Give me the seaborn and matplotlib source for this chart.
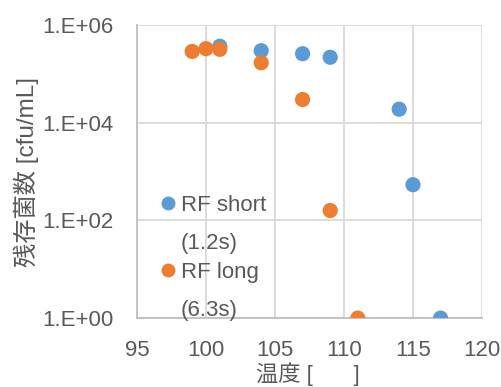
import matplotlib
matplotlib.use("Agg")
import matplotlib.pyplot as plt
import seaborn as sns
import pandas as pd
import numpy as np
from matplotlib.ticker import FixedLocator, FuncFormatter, NullLocator
from matplotlib.lines import Line2D
from matplotlib.legend import Legend

short_temp = [101, 104, 107, 109, 114, 115, 117]
short_count = [3.7e5, 3.0e5, 2.6e5, 2.2e5, 1.9e4, 540, 1.0]
long_temp = [99, 100, 101, 104, 107, 109, 111]
long_count = [2.9e5, 3.3e5, 3.2e5, 1.7e5, 3.0e4, 160, 1.0]
series_names = ["RF short", "RF long"]
series_notes = ["(1.2s)", "(6.3s)"]
x_ticks = [95, 100, 105, 110, 115, 120]
y_ticks = [1, 1e2, 1e4, 1e6]
x_label = "温度 [　   ]"
y_label = "残存菌数 [cfu/mL]"

df = pd.DataFrame({
    "temp": short_temp + long_temp,
    "count": short_count + long_count,
    "series": [series_names[0]] * len(short_temp) + [series_names[1]] * len(long_temp),
})

sns.set_theme(style="white")
plt.rcParams["font.family"] = ["Liberation Sans", "Noto Sans CJK JP", "DejaVu Sans"]

text_c = "#595959"
colors = ["#5B9BD5", "#ED7D31"]
fig = plt.figure(figsize=(5.01, 3.87), dpi=100)
ax = fig.add_axes([0.2735, 0.178, 0.6885, 0.757])

sns.scatterplot(data=df, x="temp", y="count", hue="series", palette=colors,
                s=120, edgecolor="none", ax=ax, legend=False, zorder=3)
ax.set_yscale("log")
ax.set_xlim(95, 120)
ax.set_ylim(1, 1e6)
ax.xaxis.set_major_locator(FixedLocator(x_ticks))
ax.yaxis.set_major_locator(FixedLocator(y_ticks))
ax.yaxis.set_minor_locator(NullLocator())
ax.yaxis.set_major_formatter(FuncFormatter(lambda v, p: "1.E+%02d" % int(round(np.log10(v)))))
ax.xaxis.set_major_formatter(FuncFormatter(lambda v, p: "%d" % v))

grid_c = "#D9D9D9"
ax.grid(True, which="major", color=grid_c, linewidth=1.3, zorder=0)
for s in ["top", "right"]:
    ax.spines[s].set_visible(False)
for s in ["left", "bottom"]:
    ax.spines[s].set_color("#BFBFBF")
    ax.spines[s].set_linewidth(1.3)
ax.tick_params(axis="both", length=0, labelsize=16, labelcolor=text_c)
ax.tick_params(axis="y", pad=17)
ax.tick_params(axis="x", pad=16)

ax.set_xlabel(x_label, fontsize=16, color=text_c)
ax.xaxis.set_label_coords(0.494, -0.19)
ax.xaxis.label.set_va("center")
ax.set_ylabel(y_label, fontsize=17.5, color=text_c)
ax.yaxis.set_label_coords(-0.322, 0.5)
ax.yaxis.label.set_va("center")

legend_tops = [0.420, 0.191]
for i, (name, note, c) in enumerate(zip(series_names, series_notes, colors)):
    hs = [Line2D([], [], marker="o", linestyle="none", markersize=10,
                 markerfacecolor=c, markeredgecolor="none"),
          Line2D([], [], linestyle="none")]
    leg = Legend(ax, hs, [name, note], loc="upper left",
                 bbox_to_anchor=(0.0696, legend_tops[i]),
                 frameon=False, fontsize=16, labelspacing=0.78,
                 handlelength=0.6, handletextpad=0.3,
                 borderaxespad=0, borderpad=0)
    for t in leg.get_texts():
        t.set_color(text_c)
    ax.add_artist(leg)

fig.savefig("out.png", dpi=100)
